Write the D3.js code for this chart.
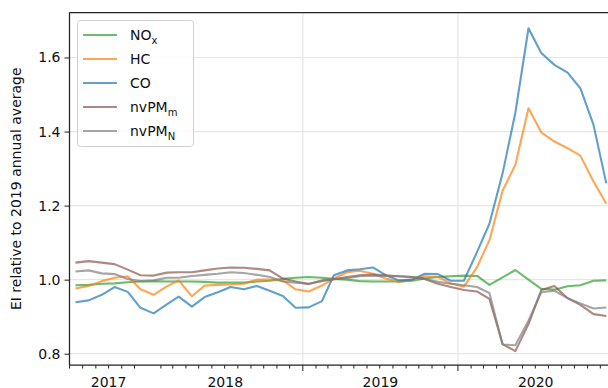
<!DOCTYPE html>
<html>
<head>
<meta charset="utf-8">
<script src="https://cdn.jsdelivr.net/npm/d3@7"></script>
<style>
  html, body { margin: 0; padding: 0; background: #fff; }
  svg { display: block; font-family: "DejaVu Sans", sans-serif; }
</style>
</head>
<body>
<svg id="chart" width="608" height="388"></svg>
<script>
// ---- data ----
const months = [
  "2017-07","2017-08","2017-09","2017-10","2017-11","2017-12",
  "2018-01","2018-02","2018-03","2018-04","2018-05","2018-06","2018-07","2018-08","2018-09","2018-10","2018-11","2018-12",
  "2019-01","2019-02","2019-03","2019-04","2019-05","2019-06","2019-07","2019-08","2019-09","2019-10","2019-11","2019-12",
  "2020-01","2020-02","2020-03","2020-04","2020-05","2020-06","2020-07","2020-08","2020-09","2020-10","2020-11","2020-12"
];
const seriesNames = ["NOx", "HC", "CO", "nvPMm", "nvPMN"];
const noxValues = [
  0.985, 0.986, 0.989, 0.990, 0.993, 0.995, 0.996, 0.995, 0.995, 0.995, 0.994, 0.992, 0.992, 0.992, 0.995, 0.997, 1.002, 1.005, 1.007, 1.005, 1.002,
  1.000, 0.996, 0.995, 0.995, 0.995, 0.997, 1.003, 1.007, 1.009,
  1.011, 1.010, 0.986, 1.006, 1.026, 1.000, 0.975, 0.973, 0.982, 0.985, 0.997, 0.998
];
const hcValues = [
  0.976, 0.983, 0.996, 1.005, 1.009, 0.974, 0.959, 0.982, 0.998, 0.955, 0.984, 0.986, 0.987, 0.989, 1.000, 1.000, 0.998, 0.974, 0.968, 0.984, 1.003,
  1.020, 1.024, 1.016, 1.003, 0.994, 1.000, 1.009, 1.007, 0.990,
  0.981, 1.034, 1.106, 1.240, 1.310, 1.463, 1.398, 1.373, 1.355, 1.335, 1.265, 1.205
];
const coValues = [
  0.939, 0.944, 0.959, 0.980, 0.967, 0.924, 0.909, 0.933, 0.954, 0.927, 0.953, 0.966, 0.980, 0.974, 0.983, 0.970, 0.956, 0.924, 0.925, 0.942, 1.012,
  1.025, 1.028, 1.033, 1.012, 0.998, 1.000, 1.016, 1.015, 0.997,
  0.997, 1.075, 1.151, 1.287, 1.450, 1.679, 1.612, 1.580, 1.559, 1.517, 1.418, 1.260
];
const nvpmMValues = [
  1.046, 1.050, 1.046, 1.042, 1.027, 1.012, 1.011, 1.019, 1.020, 1.020, 1.025, 1.030, 1.033, 1.032, 1.029, 1.025, 1.003, 0.995, 0.988, 0.998, 1.001,
  1.007, 1.012, 1.014, 1.012, 1.009, 1.007, 1.002, 0.989, 0.980,
  0.972, 0.968, 0.948, 0.826, 0.807, 0.880, 0.972, 0.983, 0.950, 0.932, 0.907, 0.902
];
const nvpmNValues = [
  1.022, 1.025, 1.017, 1.015, 1.002, 0.996, 0.998, 1.005, 1.005, 1.010, 1.013, 1.016, 1.020, 1.018, 1.013, 1.007, 0.995, 0.992, 0.989, 0.996, 1.001,
  1.004, 1.009, 1.011, 1.010, 1.009, 1.007, 1.002, 0.994, 0.989,
  0.985, 0.980, 0.964, 0.825, 0.823, 0.889, 0.966, 0.970, 0.950, 0.936, 0.922, 0.925
];
const yTicks = [0.8, 1.0, 1.2, 1.4, 1.6];
const yearLabels = ["2017", "2018", "2019", "2020"];
const yLabel = "EI relative to 2019 annual average";

// ---- layout ----
const svg = d3.select("#chart");
const L = 69.5, T = 12.5, B = 365, R = 613.5;
const colors = ["#2ca02c", "#ff7f0e", "#1f77b4", "#8c564b", "#7f7f7f"];
const seriesValues = [noxValues, hcValues, coValues, nvpmMValues, nvpmNValues];

const parseMonth = d3.timeParse("%Y-%m");
const dates = months.map(m => d3.timeDay.offset(parseMonth(m), 14));
const x0 = new Date(2017, 6, 1), x1 = new Date(2021, 0, 1);
const x = d3.scaleTime().domain([x0, x1]).range([L, R]);
const y = d3.scaleLinear().domain([0.7695, 1.7215]).range([B, T]);

// clip
svg.append("defs").append("clipPath").attr("id", "clip")
  .append("rect").attr("x", L).attr("y", T).attr("width", R - L).attr("height", B - T);

// grid
const grid = svg.append("g");
grid.selectAll("line.gy").data(yTicks).join("line")
  .attr("x1", L).attr("x2", R).attr("y1", d => y(d)).attr("y2", d => y(d))
  .attr("stroke", "#e6e6e6").attr("stroke-width", 1.2);
const yearStarts = d3.timeYear.range(d3.timeYear.offset(x0, 1), x1);
grid.selectAll("line.gx").data(yearStarts).join("line")
  .attr("x1", d => x(d)).attr("x2", d => x(d)).attr("y1", T).attr("y2", B)
  .attr("stroke", "#e6e6e6").attr("stroke-width", 1.2);

// lines
const line = d3.line().x((d, i) => x(dates[i])).y(d => y(d));
const lg = svg.append("g").attr("clip-path", "url(#clip)");
seriesValues.forEach((vals, k) => {
  lg.append("path").datum(vals)
    .attr("d", line).attr("fill", "none")
    .attr("stroke", colors[k]).attr("stroke-opacity", 0.7)
    .attr("stroke-width", 2.1).attr("stroke-linejoin", "round");
});

// axes
const yAxis = d3.axisLeft(y).tickValues(yTicks).tickFormat(d3.format(".1f")).tickSize(5).tickPadding(4);
const gy = svg.append("g").attr("transform", `translate(${L},0)`).call(yAxis);
gy.select(".domain").remove();
gy.selectAll("text").attr("font-size", 14).attr("fill", "#111").attr("font-family", "DejaVu Sans");
gy.selectAll("line").attr("stroke", "#222").attr("stroke-width", 1);

const gx = svg.append("g").attr("transform", `translate(0,${B})`);
const monthTicks = d3.timeMonth.range(x0, x1);
gx.selectAll("line.minor").data(monthTicks.filter(d => d.getMonth() !== 0)).join("line")
  .attr("x1", d => x(d)).attr("x2", d => x(d)).attr("y1", 0).attr("y2", 3.5)
  .attr("stroke", "#222").attr("stroke-width", 1);
gx.selectAll("line.major").data(yearStarts).join("line")
  .attr("x1", d => x(d)).attr("x2", d => x(d)).attr("y1", 0).attr("y2", 6)
  .attr("stroke", "#222").attr("stroke-width", 1);
gx.selectAll("text").data(yearLabels).join("text")
  .attr("x", d => {
    const a = d3.max([new Date(+d, 0, 1), x0]);
    const b = d3.min([new Date(+d + 1, 0, 1), x1]);
    return (x(a) + x(b)) / 2;
  })
  .attr("y", 21.5)
  .attr("text-anchor", "middle").attr("font-size", 14).attr("fill", "#111")
  .text(d => d);

// spines
const spine = svg.append("g").attr("stroke", "#222").attr("stroke-width", 1.25).attr("fill", "none");
spine.append("line").attr("x1", L).attr("x2", L).attr("y1", T).attr("y2", B);
spine.append("line").attr("x1", L).attr("x2", R).attr("y1", B).attr("y2", B);
spine.append("line").attr("x1", L).attr("x2", R).attr("y1", T).attr("y2", T);
spine.append("line").attr("x1", R).attr("x2", R).attr("y1", T).attr("y2", B);

// y label
svg.append("text")
  .attr("transform", `translate(21,${(T + B) / 2}) rotate(-90)`)
  .attr("text-anchor", "middle").attr("font-size", 14).attr("fill", "#111")
  .text(yLabel);

// legend
const leg = svg.append("g");
leg.append("rect").attr("x", 77.5).attr("y", 20.5).attr("width", 116).attr("height", 126)
  .attr("rx", 3).attr("fill", "#fff").attr("fill-opacity", 0.8)
  .attr("stroke", "#d0d0d0").attr("stroke-width", 1);
const legMain = ["NO", "HC", "CO", "nvPM", "nvPM"];
const legSub = ["x", "", "", "m", "N"];
seriesNames.forEach((name, k) => {
  const yy = 35 + k * 24;
  leg.append("line").attr("x1", 83).attr("x2", 117).attr("y1", yy).attr("y2", yy)
    .attr("stroke", colors[k]).attr("stroke-opacity", 0.7).attr("stroke-width", 2.1);
  const t = leg.append("text").attr("x", 130).attr("y", yy + 5)
    .attr("font-size", 14).attr("fill", "#111");
  t.append("tspan").text(legMain[k]);
  if (legSub[k]) t.append("tspan").attr("dy", 3.5).attr("font-size", 10).text(legSub[k]);
});
</script>
</body>
</html>
